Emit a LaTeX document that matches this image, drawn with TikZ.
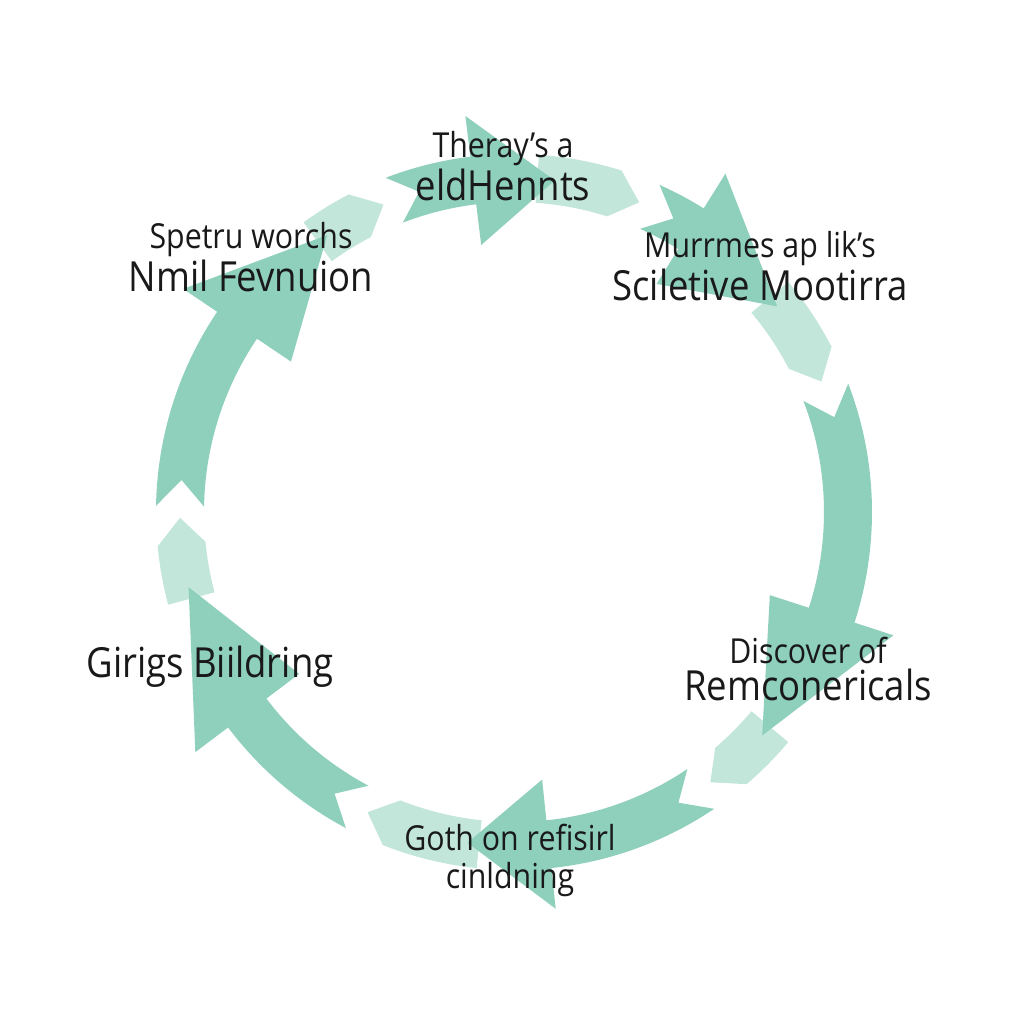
\documentclass[tikz,border=0pt]{standalone}
\usepackage{fontspec}
\setmainfont[FakeStretch=0.88]{Open Sans}

\definecolor{mint}{HTML}{8ED0BC}
\definecolor{palemint}{HTML}{C2E6DA}

\tikzset{
    steplabel/.style={align=center,text=black!90,font=\fontsize{11.8}{10.8}\selectfont},
}
\newcommand{\upperline}[1]{{\fontsize{9.8}{10.8}\selectfont #1}}

\begin{document}
\begin{tikzpicture}

    \fill[white] (-5.14,-5.12) rectangle (5.10,5.12);
    \useasboundingbox (-5.14,-5.12) rectangle (5.10,5.12);

    % light pieces in front of every head
    \foreach \s/\e in {86/68, 40/23, -40/-54, -96/-116, -165/-179, -234/-247}
        \fill[palemint] (\s:3.58) arc[start angle=\s, end angle={\e+4.5}, radius=3.58]
            -- (\e:3.34) -- ({\e+4.5}:3.10)
            arc[start angle={\e+4.5}, end angle=\s, radius=3.10] -- cycle;

    % the six arrows, tail / head base / tip
    \foreach \t/\b/\p in {111/97/83, 66/58/38, 21/-18/-42, -56/-84/-98, -118/-143/-167, -181/-214/-236}
        \fill[mint] (\t:3.58) arc[start angle=\t, end angle=\b, radius=3.58]
            -- (\b:3.99) -- (\p:3.34) -- (\b:2.69) -- (\b:3.10)
            arc[start angle=\b, end angle=\t, radius=3.10] -- ({\t-4.5}:3.34) -- cycle;

    \node[steplabel] (therays) at (-0.11,3.46) {\upperline{Theray's a}\\eldHennts};
    \node[steplabel] (spetru) at (-2.63,2.55) {\upperline{Spetru worchs}\\Nmil Fevnuion};
    \node[steplabel] (murrmes) at (2.46,2.46) {\upperline{Murrmes ap lik's}\\Sciletive Mootirra};
    \node[steplabel] (discover) at (2.94,-1.57) {\upperline{Discover of}\\Remconericals};
    \node[steplabel] (girigs) at (-3.04,-1.55) {Girigs Biildring};
    \node[steplabel] (goth) at (-0.04,-3.48) {\upperline{Goth on refisirl}\\\upperline{cinldning}};
\end{tikzpicture}
\end{document}
